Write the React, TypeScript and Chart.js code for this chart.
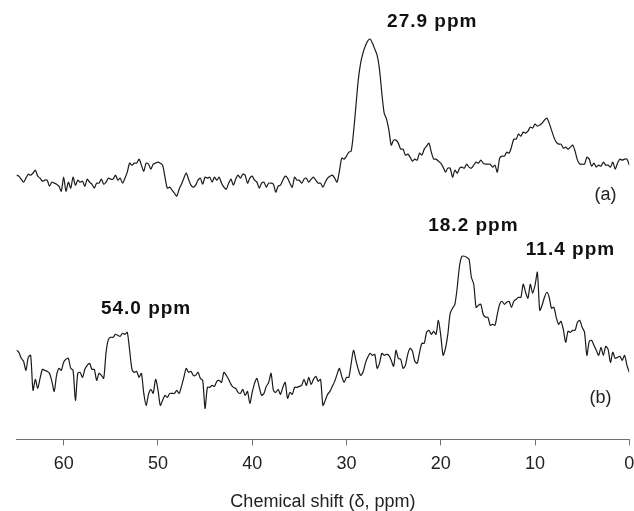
import React, { useEffect, useRef } from 'react';
import { Chart, registerables } from 'chart.js';

Chart.register(...registerables);

// Chemical shift axis (ppm), shared by both spectra
const ppm = [
  65, 64.75, 64.5, 64.25, 64, 63.75, 63.5, 63.25,
  63, 62.75, 62.5, 62.25, 62, 61.75, 61.5, 61.25,
  61, 60.75, 60.5, 60.25, 60, 59.75, 59.5, 59.25,
  59, 58.75, 58.5, 58.25, 58, 57.75, 57.5, 57.25,
  57, 56.75, 56.5, 56.25, 56, 55.75, 55.5, 55.25,
  55, 54.75, 54.5, 54.25, 54, 53.75, 53.5, 53.25,
  53, 52.75, 52.5, 52.25, 52, 51.75, 51.5, 51.25,
  51, 50.75, 50.5, 50.25, 50, 49.75, 49.5, 49.25,
  49, 48.75, 48.5, 48.25, 48, 47.75, 47.5, 47.25,
  47, 46.75, 46.5, 46.25, 46, 45.75, 45.5, 45.25,
  45, 44.75, 44.5, 44.25, 44, 43.75, 43.5, 43.25,
  43, 42.75, 42.5, 42.25, 42, 41.75, 41.5, 41.25,
  41, 40.75, 40.5, 40.25, 40, 39.75, 39.5, 39.25,
  39, 38.75, 38.5, 38.25, 38, 37.75, 37.5, 37.25,
  37, 36.75, 36.5, 36.25, 36, 35.75, 35.5, 35.25,
  35, 34.75, 34.5, 34.25, 34, 33.75, 33.5, 33.25,
  33, 32.75, 32.5, 32.25, 32, 31.75, 31.5, 31.25,
  31, 30.75, 30.5, 30.25, 30, 29.75, 29.5, 29.25,
  29, 28.75, 28.5, 28.25, 28, 27.75, 27.5, 27.25,
  27, 26.75, 26.5, 26.25, 26, 25.75, 25.5, 25.25,
  25, 24.75, 24.5, 24.25, 24, 23.75, 23.5, 23.25,
  23, 22.75, 22.5, 22.25, 22, 21.75, 21.5, 21.25,
  21, 20.75, 20.5, 20.25, 20, 19.75, 19.5, 19.25,
  19, 18.75, 18.5, 18.25, 18, 17.75, 17.5, 17.25,
  17, 16.75, 16.5, 16.25, 16, 15.75, 15.5, 15.25,
  15, 14.75, 14.5, 14.25, 14, 13.75, 13.5, 13.25,
  13, 12.75, 12.5, 12.25, 12, 11.75, 11.5, 11.25,
  11, 10.75, 10.5, 10.25, 10, 9.75, 9.5, 9.25,
  9, 8.75, 8.5, 8.25, 8, 7.75, 7.5, 7.25,
  7, 6.75, 6.5, 6.25, 6, 5.75, 5.5, 5.25,
  5, 4.75, 4.5, 4.25, 4, 3.75, 3.5, 3.25,
  3, 2.75, 2.5, 2.25, 2, 1.75, 1.5, 1.25,
  1, 0.75, 0.5, 0.25, 0,
];

// Spectrum (a): intensity relative to its own baseline (a.u.)
const traceA = [
  3, 2, -1, -4, 0, 4, 3, 5, 8, 2,
  0, -3, -2, -2, -8, -4, -5, -6, -8, -13,
  1, -13, -4, -10, 1, -7, -2, -4, -3, -8,
  -1, -4, -6, -10, -5, -5, -1, -6, -4, 0,
  -1, -1, 3, -2, 0, -5, 0, 6, 15, 13,
  15, 15, 19, 13, 7, 15, 14, 9, 14, 15,
  16, 15, 13, 1, -10, -9, -12, -15, -18, -11,
  -6, 0, 5, -1, -7, -9, -7, -2, 0, -6,
  1, 0, 1, -4, 1, -2, 1, -5, -9, -11,
  -5, -1, -7, -1, 3, 0, 4, 3, -5, 0,
  2, -2, -4, -10, -5, -4, -9, -5, -5, -6,
  -14, -8, -7, -2, 2, 0, -5, -9, 1, -2,
  -2, -5, -1, 0, -4, -1, 1, -2, -5,
  -5, -9, -4, 0, 2, 3, 0, -4, 7, 20,
  19, 22, 26, 27, 46, 72, 98, 115, 125, 132,
  137, 139, 135, 129, 123, 109, 85, 65, 59, 48,
  33, 38, 38, 35, 29, 29, 23, 24, 21, 17,
  19, 18, 25, 23, 29, 32, 35, 26, 19, 19,
  17, 15, 11, 6, 10, 10, 1, 8, 5, 10,
  11, 10, 14, 11, 10, 13, 16, 15, 18, 15,
  14, 14, 14, 11, 13, 6, 20, 22, 22, 26,
  25, 31, 39, 39, 44, 42, 46, 45, 47, 51,
  50, 54, 52, 53, 55, 58, 60, 55, 48, 41,
  36, 34, 34, 30, 31, 29, 31, 33, 27, 18,
  14, 14, 14, 21, 19, 12, 15, 11, 13, 12,
  16, 13, 13, 11, 16, 9, 15, 19, 18, 19,
  19, 13,
];

// Spectrum (b): intensity relative to its own baseline (a.u.)
const traceB = [
  25, 23, 17, 14, 5, 18, 20, -15, -4, -13,
  -3, 6, 5, 4, 2, -6, -16, 0, 7, 5,
  13, 16, 17, 7, 5, -25, 2, 3, -2, 6,
  10, 12, 6, 6, -5, 2, 0, -3, 23, 36,
  38, 38, 41, 40, 39, 42, 41, 43, 25, 6,
  3, 4, -2, 2, -18, -30, -19, -14, -18, -4,
  -14, -30, -25, -20, -22, -18, -18, -18, -15, -18,
  -11, -2, 7, 3, 4, 0, 0, 3, -3, -5,
  -33, -12, -12, -10, -11, -6, -5, -7, 3, 0,
  -4, -9, -12, -13, -17, -18, -14, -20, -16, -28,
  -17, -8, -3, -12, -20, -18, -11, -7, 2, -15,
  -17, -14, -19, -12, -7, -23, -17, -19, -12, -12,
  -11, -10, -4, -10, -2, -9, -4, -1, -6,
  -4, -30, -25, -19, -16, -11, -6, 1, 7, -1,
  -7, -2, -2, 12, 25, 15, 6, 0, 3, 12,
  18, 22, 20, 21, 7, 12, 22, 20, 21, 20,
  15, 9, 25, 17, 16, 7, 10, 21, 27, 24,
  14, 12, 23, 32, 32, 43, 45, 41, 44, 41,
  55, 40, 20, 27, 41, 62, 67, 71, 88, 110,
  119, 119, 118, 116, 98, 91, 68, 70, 71, 61,
  58, 58, 50, 51, 50, 61, 71, 74, 71, 73,
  74, 68, 74, 76, 78, 78, 91, 83, 77, 91,
  82, 90, 103, 65, 70, 78, 83, 78, 67, 68,
  58, 51, 54, 46, 33, 44, 43, 45, 45, 53,
  55, 48, 43, 20, 34, 35, 30, 25, 20, 28,
  20, 29, 26, 13, 23, 17, 18, 19, 15, 20,
  10, 3,
];

// vertical stacking offsets of the two spectra (a.u.)
const OFFSET_A = 261;
const OFFSET_B = 64;

const xTickValues = [60, 50, 40, 30, 20, 10, 0];

const peakLabelText = ['27.9 ppm', '18.2 ppm', '11.4 ppm', '54.0 ppm'];
const peakLabelPpm = [20.95, 16.59, 6.29, 51.31];
const peakLabelLevel = [416.8, 213.2, 189.3, 131];

const traceLabelText = ['(a)', '(b)'];
const traceLabelPpm = [2.52, 3.05];
const traceLabelLevel = [244.5, 41.5];

const FONT = '"Liberation Sans", Arial, Helvetica, sans-serif';

export default function App() {
  const ref = useRef<HTMLCanvasElement>(null);

  useEffect(() => {
    document.body.style.margin = '0';
    Chart.defaults.font.family = FONT;

    const labelPlugin = {
      id: 'spectrumLabels',
      afterDatasetsDraw(chart: any) {
        const { ctx } = chart;
        const xs = chart.scales.x;
        const ys = chart.scales.y;
        ctx.save();
        ctx.textAlign = 'center';
        ctx.textBaseline = 'middle';
        ctx.fillStyle = '#111';
        ctx.font = `bold 19px ${FONT}`;
        try { (ctx as any).letterSpacing = '1px'; } catch (e) {}
        peakLabelText.forEach((t, i) => {
          ctx.fillText(t, xs.getPixelForValue(peakLabelPpm[i]) + 0.5, ys.getPixelForValue(peakLabelLevel[i]));
        });
        try { (ctx as any).letterSpacing = '0px'; } catch (e) {}
        ctx.font = `18px ${FONT}`;
        ctx.fillStyle = '#222';
        traceLabelText.forEach((t, i) => {
          ctx.fillText(t, xs.getPixelForValue(traceLabelPpm[i]), ys.getPixelForValue(traceLabelLevel[i]));
        });
        ctx.restore();
      },
    };

    const lineStyle = {
      borderColor: '#1a1a1a',
      borderWidth: 1.2,
      pointRadius: 0,
      tension: 0.25,
      fill: false,
    };

    const chart = new Chart(ref.current as HTMLCanvasElement, {
      type: 'line',
      data: {
        datasets: [
          { label: '(a)', data: ppm.map((p, i) => ({ x: p, y: traceA[i] + OFFSET_A })), ...lineStyle },
          { label: '(b)', data: ppm.map((p, i) => ({ x: p, y: traceB[i] + OFFSET_B })), ...lineStyle },
        ],
      },
      options: {
        responsive: false,
        animation: false,
        layout: { autoPadding: false, padding: { left: 16.5, right: 4.7, top: 0, bottom: 0 } },
        plugins: { legend: { display: false }, tooltip: { enabled: false } },
        scales: {
          x: {
            type: 'linear',
            reverse: true,
            min: 0,
            max: 65,
            afterBuildTicks: (s: any) => {
              s.ticks = xTickValues.map((v) => ({ value: v }));
            },
            afterFit: (s: any) => {
              s.paddingLeft = 0;
              s.paddingRight = 0;
            },
            grid: { drawOnChartArea: false, drawTicks: true, tickLength: 6, color: '#707070', lineWidth: 1 },
            border: { display: true, color: '#707070', width: 1 },
            ticks: {
              padding: 8,
              color: '#222',
              font: { size: 18, family: FONT },
              maxRotation: 0,
              autoSkip: false,
            },
            title: {
              display: true,
              text: 'Chemical shift (δ, ppm)',
              color: '#222',
              font: { size: 18, family: FONT, lineHeight: 1 },
              padding: { top: 10, bottom: 0 },
            },
          },
          y: { display: false, min: 0, max: 439 },
        },
      },
      plugins: [labelPlugin],
    } as any);

    return () => chart.destroy();
  }, []);

  return <canvas ref={ref} width={634} height={511} style={{ display: 'block' }} />;
}
